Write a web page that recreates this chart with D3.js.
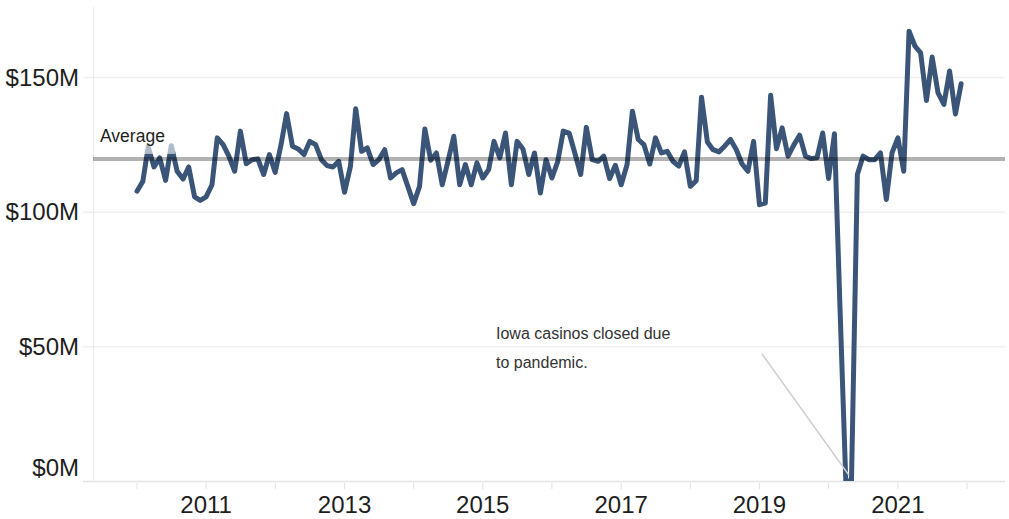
<!DOCTYPE html>
<html>
<head>
<meta charset="utf-8">
<script src="https://cdn.jsdelivr.net/npm/d3@7"></script>
<style>
    body { margin: 0; background: #fff; }
    svg { display: block; font-family: "Liberation Sans", Arial, sans-serif; }
</style>
</head>
<body>
<div id="chart"></div>
<script>
// Monthly casino revenue in $M, Jan to Dec of each year
const rev2010 = [107.6, 111.3, 124.0, 116.6, 120.0, 111.6, 124.5, 115.0, 112.1, 116.6, 105.5, 104.2];
const rev2011 = [105.5, 110.0, 127.4, 124.9, 120.6, 115.0, 129.9, 117.8, 119.3, 119.6, 113.8, 121.2];
const rev2012 = [114.6, 125.0, 136.4, 124.3, 123.3, 121.2, 126.1, 124.9, 119.3, 117.1, 116.6, 118.7];
const rev2013 = [107.2, 116.8, 138.2, 122.4, 123.7, 117.5, 119.3, 123.0, 112.5, 114.4, 115.6, 109.4];
const rev2014 = [103.0, 109.4, 130.7, 119.1, 121.8, 110.0, 118.7, 128.0, 110.0, 117.5, 110.0, 118.1];
const rev2015 = [112.5, 115.6, 126.1, 120.0, 129.2, 110.0, 126.1, 123.3, 113.8, 121.8, 106.9, 119.3];
const rev2016 = [112.5, 118.7, 129.9, 129.2, 121.8, 113.8, 131.3, 119.3, 118.7, 120.6, 112.3, 117.2];
const rev2017 = [110.0, 117.5, 137.3, 126.8, 124.9, 117.7, 127.4, 121.8, 122.4, 118.7, 116.9, 122.2];
const rev2018 = [109.4, 111.5, 142.5, 125.9, 123.0, 122.2, 124.3, 126.8, 123.0, 117.7, 115.0, 126.1];
const rev2019 = [102.6, 103.2, 143.2, 123.4, 131.1, 120.6, 124.7, 128.4, 120.6, 119.7, 120.0, 129.2];
const rev2020 = [112.3, 128.9, 65.0, 0, 0, 113.8, 120.6, 119.3, 119.3, 121.8, 104.5, 121.8];
const rev2021 = [127.4, 115.0, 167.0, 161.5, 159.0, 141.3, 157.4, 144.1, 139.8, 152.2, 136.3, 147.5];

const years = [2010, 2011, 2012, 2013, 2014, 2015, 2016, 2017, 2018, 2019, 2020, 2021];
const yearSeries = [rev2010, rev2011, rev2012, rev2013, rev2014, rev2015, rev2016, rev2017, rev2018, rev2019, rev2020, rev2021];

const yTicks = [0, 50, 100, 150];
const yearTicks = [2010, 2011, 2012, 2013, 2014, 2015, 2016, 2017, 2018, 2019, 2020, 2021, 2022];
const labelledYears = [2011, 2013, 2015, 2017, 2019, 2021];

const noteLines = ["Iowa casinos closed due", "to pandemic."];
const noteMonth = new Date(2020, 3, 1);

// Flatten the yearly arrays into {date, value} rows
const data = [];
years.forEach((yr, k) => {
    yearSeries[k].forEach((v, m) => data.push({date: new Date(yr, m, 1), value: v}));
});

const width = 1009;
const height = 519;
const plot = {left: 93, right: 1005, top: 7, bottom: 481};

const svg = d3.select("#chart").append("svg")
    .attr("width", width)
    .attr("height", height);

const x = d3.scaleTime()
    .domain([new Date(2010, 0, 1), new Date(2022, 0, 1)])
    .range([137, 967]);

const y = d3.scaleLinear()
    .domain([0, 150])
    .range([plot.bottom, 77]);

// Gridlines
svg.append("g")
    .selectAll("line")
    .data(yTicks)
    .enter()
    .append("line")
    .attr("x1", 83)
    .attr("x2", plot.right)
    .attr("y1", d => y(d) + 0.5)
    .attr("y2", d => y(d) + 0.5)
    .attr("stroke", d => d === 0 ? "#e4e4e4" : "#efefef")
    .attr("stroke-width", 1.5);

// Left axis rule
svg.append("line")
    .attr("x1", plot.left + 0.5)
    .attr("x2", plot.left + 0.5)
    .attr("y1", plot.top)
    .attr("y2", plot.bottom)
    .attr("stroke", "#ececec")
    .attr("stroke-width", 1);

// Y labels
svg.append("g")
    .selectAll("text")
    .data(yTicks)
    .enter()
    .append("text")
    .attr("x", 79)
    .attr("y", d => d === 0 ? y(d) - 14 : y(d))
    .attr("dy", "0.36em")
    .attr("text-anchor", "end")
    .attr("fill", "#1e1e1e")
    .style("font-size", "24px")
    .text(d => `$${d}M`);

// Year ticks and labels
svg.append("g")
    .selectAll("line")
    .data(yearTicks)
    .enter()
    .append("line")
    .attr("x1", d => x(new Date(d, 0, 1)))
    .attr("x2", d => x(new Date(d, 0, 1)))
    .attr("y1", plot.bottom + 2)
    .attr("y2", plot.bottom + 8)
    .attr("stroke", "#e0e0e0")
    .attr("stroke-width", 1);

svg.append("g")
    .selectAll("text")
    .data(labelledYears)
    .enter()
    .append("text")
    .attr("x", d => x(new Date(d, 0, 1)))
    .attr("y", 513)
    .attr("text-anchor", "middle")
    .attr("fill", "#1e1e1e")
    .style("font-size", "24px")
    .text(d => d);

// Revenue line, clipped to the plot area
svg.append("clipPath")
    .attr("id", "plot-clip")
    .append("rect")
    .attr("x", plot.left)
    .attr("y", plot.top)
    .attr("width", plot.right - plot.left)
    .attr("height", plot.bottom - plot.top);

const line = d3.line()
    .x(d => x(d.date))
    .y(d => y(d.value));

svg.append("path")
    .datum(data)
    .attr("clip-path", "url(#plot-clip)")
    .attr("fill", "none")
    .attr("stroke", "#3b5579")
    .attr("stroke-width", 5)
    .attr("stroke-linejoin", "round")
    .attr("stroke-linecap", "round")
    .attr("d", line);

// Average reference line
const avg = d3.mean(data, d => d.value);

svg.append("line")
    .attr("x1", plot.left)
    .attr("x2", plot.right)
    .attr("y1", y(avg))
    .attr("y2", y(avg))
    .attr("stroke", "#000")
    .attr("stroke-opacity", 0.3)
    .attr("stroke-width", 4);

svg.append("rect")
    .attr("x", 97)
    .attr("y", y(avg) - 35)
    .attr("width", 78)
    .attr("height", 30)
    .attr("fill", "#fff")
    .attr("fill-opacity", 0.6);

svg.append("text")
    .attr("x", 100)
    .attr("y", y(avg) - 17)
    .attr("fill", "#1e1e1e")
    .style("font-size", "17.5px")
    .text("Average");

// Pandemic annotation
svg.append("line")
    .attr("x1", 762)
    .attr("y1", 354)
    .attr("x2", x(noteMonth) + 3)
    .attr("y2", y(0) - 6)
    .attr("stroke", "#cfcfcf")
    .attr("stroke-width", 1.5);

svg.append("g")
    .selectAll("text")
    .data(noteLines)
    .enter()
    .append("text")
    .attr("x", 496)
    .attr("y", (d, i) => 339 + i * 29)
    .attr("fill", "#333")
    .style("font-size", "16px")
    .text(d => d);
</script>
</body>
</html>
